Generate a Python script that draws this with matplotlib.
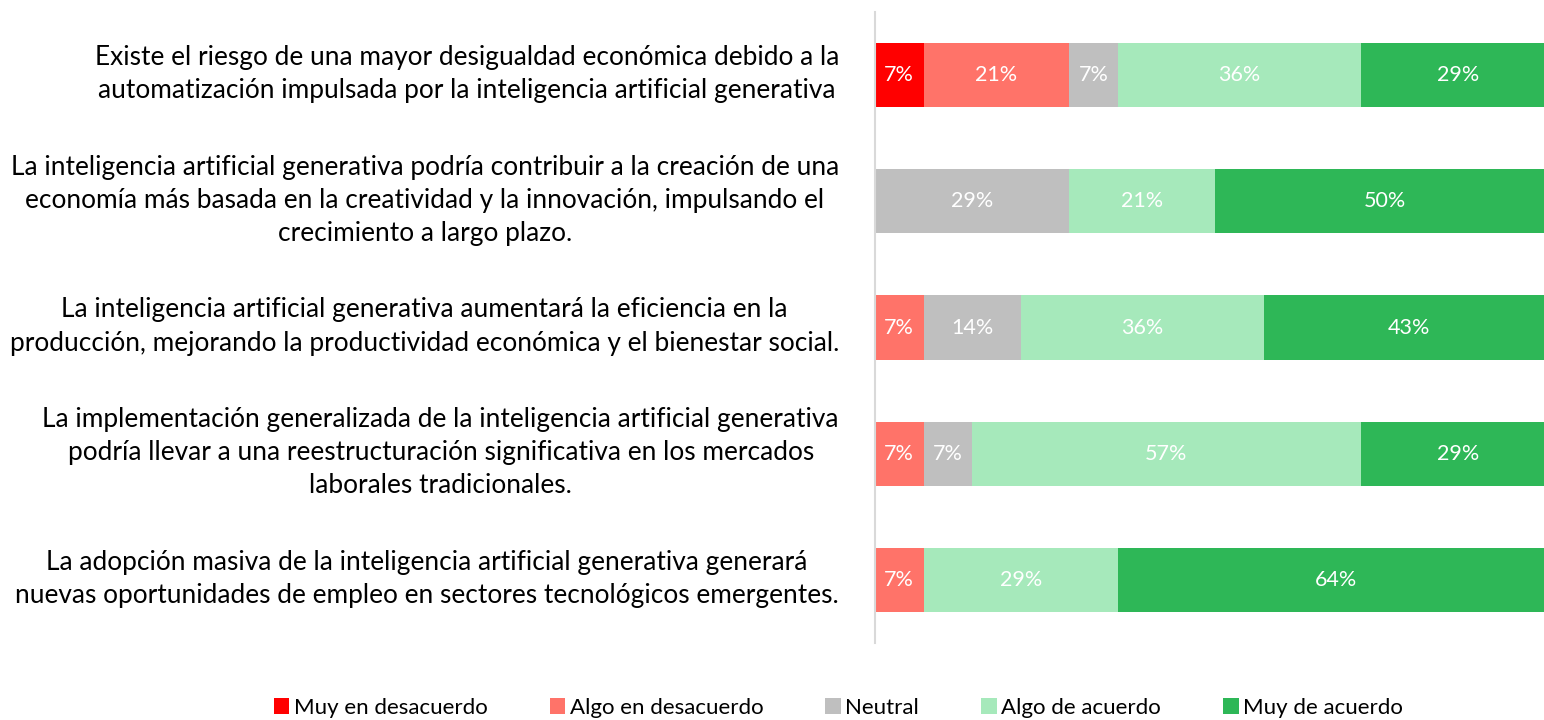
import matplotlib
matplotlib.use("Agg")
import matplotlib.pyplot as plt
from matplotlib.patches import Patch

categories = [
    "Existe el riesgo de una mayor desigualdad económica debido a la\nautomatización impulsada por la inteligencia artificial generativa",
    "La inteligencia artificial generativa podría contribuir a la creación de una\neconomía más basada en la creatividad y la innovación, impulsando el\ncrecimiento a largo plazo.",
    "La inteligencia artificial generativa aumentará la eficiencia en la\nproducción, mejorando la productividad económica y el bienestar social.",
    "La implementación generalizada de la inteligencia artificial generativa\npodría llevar a una reestructuración significativa en los mercados\nlaborales tradicionales.",
    "La adopción masiva de la inteligencia artificial generativa generará\nnuevas oportunidades de empleo en sectores tecnológicos emergentes.",
]
series_names = ["Muy en desacuerdo", "Algo en desacuerdo", "Neutral", "Algo de acuerdo", "Muy de acuerdo"]
muy_en_desacuerdo = [7.14, 0, 0, 0, 0]
algo_en_desacuerdo = [21.43, 0, 7.14, 7.14, 7.14]
neutral = [7.14, 28.57, 14.29, 7.14, 0]
algo_de_acuerdo = [35.71, 21.43, 35.71, 57.14, 28.57]
muy_de_acuerdo = [28.57, 50.0, 42.86, 28.57, 64.29]
colors = ["#FF0000", "#FF7369", "#BFBFBF", "#A6E9BB", "#2EB757"]

plt.rcParams['font.family'] = ['Lato', 'DejaVu Sans']

fig = plt.figure(figsize=(15.44, 7.2), dpi=100)
# plot area extends slightly past the right edge of the figure (as in the cropped reference)
ax = fig.add_axes([875/1544, 1 - 643/720, 680/1544, 631/720])

series = [muy_en_desacuerdo, algo_en_desacuerdo, neutral, algo_de_acuerdo, muy_de_acuerdo]
ypos = list(range(len(categories)))
left = [0.0] * len(categories)
for name, vals, col in zip(series_names, series, colors):
    ax.barh(ypos, vals, left=left, height=0.51, color=col, label=name, edgecolor='none')
    for i, v in enumerate(vals):
        if v > 0:
            ax.text(left[i] + v / 2, ypos[i], f"{v:.0f}%", ha='center', va='center',
                    color='white', fontsize=15.5)
    left = [l + v for l, v in zip(left, vals)]

ax.set_xlim(0, 100)
ax.set_ylim(len(categories) - 0.5, -0.5)
for s in ['top', 'right', 'bottom']:
    ax.spines[s].set_visible(False)
ax.spines['left'].set_color('#D9D9D9')
ax.spines['left'].set_linewidth(1.5)
ax.set_xticks([])
ax.set_yticks([])

for i, cat in enumerate(categories):
    ax.annotate(cat, xy=(0, ypos[i]), xycoords=('axes fraction', 'data'),
                xytext=(-36, 1), textcoords='offset pixels',
                ha='right', va='center', multialignment='center',
                fontsize=18.9, color='#000000', linespacing=1.4)

handles = [Patch(facecolor=c, edgecolor='none') for c in colors]
fig.legend(handles, series_names, loc='center', bbox_to_anchor=(0.543, 1 - 708/720),
           ncol=5, frameon=False, fontsize=16, handlelength=0.7, handleheight=0.7,
           handletextpad=0.2, columnspacing=2.8)

fig.savefig("out.png", dpi=100)
